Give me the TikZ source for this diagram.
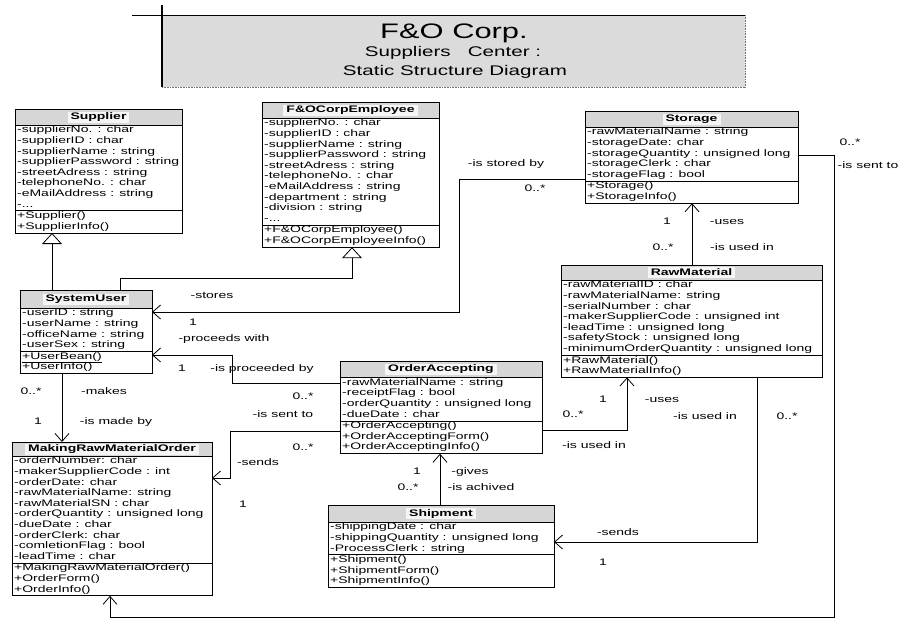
\documentclass[tikz,border=0pt]{standalone}
\usepackage{fontspec}
\setmainfont[FakeStretch=1.47]{Liberation Sans}
\usetikzlibrary{arrows.meta,calc}

\tikzset{
  boxline/.style={draw=black, line width=0.8pt},
  headfill/.style={fill=gray!32},
  rowtext/.style={inner sep=0pt, anchor=west, text height=7pt, text depth=2pt,
    font=\fontsize{9.5}{10.6}\selectfont},
  headtext/.style={inner xsep=3pt, inner ysep=1pt, fill=gray!8, text height=7pt, text depth=2pt,
    font=\fontsize{9.5}{10.6}\selectfont\bfseries},
  lbl/.style={inner sep=0pt, text height=7pt, text depth=2pt,
    font=\fontsize{9.5}{10.6}\selectfont},
  link/.style={draw=black, line width=0.75pt},
  assoc/.style={link, -{Straight Barb[length=8pt,width=14pt,line width=0.8pt]}},
  gen/.style={link, -{Triangle[open,length=11pt,width=20pt,fill=white,line width=0.8pt]}},
}

% three periods kept inside a macro so that \foreach does not read them as a range
\newcommand{\clsdots}{...}

% #1 name, #2 top-left x,y, #3 width, #4 header height, #5 no. of attributes,
% #6 no. of operations, #7 class name, #8 attributes, #9 operations
\newcommand{\umlclass}[9]{%
  \pgfmathsetmacro\clsh{#4+#5*10.6+#6*10.6+2}%
  \pgfmathsetmacro\clsep{#4+#5*10.6+1}%
  \node[draw, line width=0.8pt, inner sep=0pt, outer sep=0pt, minimum width=#3pt,
        minimum height=\clsh pt, anchor=north west] (#1) at (#2) {};
  \fill[headfill] (#1.north west) rectangle ($(#1.north east)+(0,#4)$);
  \node[headtext] (#1-name) at ($(#1.north)+(0,{#4/2})$) {#7};
  \draw[boxline] (#1.north west) rectangle (#1.south east);
  \draw[boxline] ($(#1.north west)+(0,#4)$) -- ($(#1.north east)+(0,#4)$);
  \draw[boxline] ($(#1.north west)+(0,\clsep)$) -- ($(#1.north east)+(0,\clsep)$);
  \foreach \a [count=\i] in {#8}
    \node[rowtext] (#1-a\i) at ($(#1.north west)+(2,{#4+5.3+(\i-1)*10.6})$) {\a};
  \foreach \m [count=\j] in {#9}
    \node[rowtext] (#1-m\j) at ($(#1.north west)+(2,{\clsep+5.3+(\j-1)*10.6})$) {\m};
}

\begin{document}
\begin{tikzpicture}[x=1pt,y=-1pt]
\useasboundingbox (0,0) rectangle (909,619);

% title block
\node[fill=gray!28, inner sep=0pt, outer sep=0pt, minimum width=583pt, minimum height=72pt,
      anchor=north west] (title) at (162,15) {};
\draw[black!55, line width=0.6pt, densely dotted] (title.north east) -- (title.south east)
      -- (title.south west);
\draw[line width=0.9pt] (132,15) -- (title.north east);
\draw[line width=1.1pt] (162,5) -- (title.south west);
\node[inner sep=0pt] (t1) at (454,33) {\fontsize{21}{21}\selectfont F\&O Corp.};
\node[inner sep=0pt] (t2) at (453,53) {\fontsize{14}{14}\selectfont Suppliers\ \ \ Center :};
\node[inner sep=0pt] (t3) at (455,72) {\fontsize{14}{14}\selectfont Static Structure Diagram};

% classes
\umlclass{sp}{15,109}{167}{16}{8}{2}{Supplier}
  {-supplierNo. : char,-supplierID : char,-supplierName : string,-supplierPassword : string,-streetAdress : string,-telephoneNo. : char,-eMailAddress : string,-\clsdots}
  {+Supplier(),+SupplierInfo()}

\umlclass{fe}{262,102}{177}{16}{10}{2}{F\&OCorpEmployee}
  {-supplierNo. : char,-supplierID : char,-supplierName : string,-supplierPassword : string,-streetAdress : string,-telephoneNo. : char,-eMailAddress : string,-department : string,-division : string,-\clsdots}
  {+F\&OCorpEmployee(),+F\&OCorpEmployeeInfo()}

\umlclass{st}{585,111}{213}{16}{5}{2}{Storage}
  {-rawMaterialName : string,-storageDate: char,-storageQuantity : unsigned long,-storageClerk : char,-storageFlag : bool}
  {+Storage(),+StorageInfo()}

\umlclass{su}{20,290}{132}{18}{4}{2}{SystemUser}
  {-userID : string,-userName : string,-officeName : string,-userSex : string}
  {\underline{+UserBean()},\underline{+UserInfo()}}

\umlclass{rm}{561,265}{261}{15}{7}{2}{RawMaterial}
  {-rawMaterialID : char,-rawMaterialName: string,-serialNumber : char,-makerSupplierCode : unsigned int,-leadTime : unsigned long,-safetyStock : unsigned long,-minimumOrderQuantity : unsigned long}
  {+RawMaterial(),+RawMaterialInfo()}

\umlclass{oa}{340,361}{202}{16.5}{4}{3}{OrderAccepting}
  {-rawMaterialName : string,-receiptFlag : bool,-orderQuantity : unsigned long,-dueDate : char}
  {+OrderAccepting(),+OrderAcceptingForm(),+OrderAcceptingInfo()}

\umlclass{mo}{12,442}{200}{14}{10}{3}{MakingRawMaterialOrder}
  {-orderNumber: char,-makerSupplierCode : int,-orderDate: char,-rawMaterialName: string,-rawMaterialSN : char,-orderQuantity : unsigned long,-dueDate : char,-orderClerk: char,-comletionFlag : bool,-leadTime : char}
  {+MakingRawMaterialOrder(),+OrderForm(),+OrderInfo()}

\umlclass{sh}{328,505}{226}{17}{3}{3}{Shipment}
  {-shippingDate : char,-shippingQuantity : unsigned long,-ProcessClerk : string}
  {+Shipment(),+ShipmentForm(),+ShipmentInfo()}

% generalizations
\draw[gen] (su.north -| 52,0) -- (sp.south -| 52,0);
\draw[gen] (su.north -| 120,0) |- (352,278) -- (fe.south -| 352,0);

% associations
\draw[assoc] (st.west |- 0,179) -| (459,312) -- (su.east |- 0,312);
\draw[assoc] (oa.west |- 0,383) -| (232,355) -- (su.east |- 0,355);
\draw[assoc] (su.south -| 62,0) -- (mo.north -| 62,0);
\draw[assoc] (oa.west |- 0,431) -| (230,478) -- (mo.east |- 0,478);
\draw[assoc] (oa.east |- 0,430) -| (rm.south -| 627,0);
\draw[assoc] (rm.north -| 692,0) -- (st.south -| 692,0);
\draw[assoc] (st.east |- 0,155) -| (834,617) -| (mo.south -| 110,0);
\draw[assoc] (rm.south -| 757,0) |- (sh.east |- 0,542);
\draw[assoc] (sh.north -| 440,0) -- (oa.south -| 440,0);

% role names and multiplicities
\node[lbl] (l1)  at (506,164) {-is stored by};
\node[lbl] (l2)  at (535,189) {0..*};
\node[lbl] (l3)  at (850,143) {0..*};
\node[lbl] (l4)  at (868,166) {-is sent to};
\node[lbl] (l5)  at (212,296) {-stores};
\node[lbl] (l6)  at (193,323) {1};
\node[lbl] (l7)  at (224,339) {-proceeds with};
\node[lbl] (l8)  at (182,369) {1};
\node[lbl] (l9)  at (262,369) {-is proceeded by};
\node[lbl] (l10) at (303,397) {0..*};
\node[lbl] (l11) at (283,415) {-is sent to};
\node[lbl] (l12) at (31,392)  {0..*};
\node[lbl] (l13) at (104,392) {-makes};
\node[lbl] (l14) at (38,422)  {1};
\node[lbl] (l15) at (116,422) {-is made by};
\node[lbl] (l16) at (303,448) {0..*};
\node[lbl] (l17) at (258,463) {-sends};
\node[lbl] (l18) at (243,505) {1};
\node[lbl] (l19) at (667,222) {1};
\node[lbl] (l20) at (727,222) {-uses};
\node[lbl] (l21) at (663,248) {0..*};
\node[lbl] (l22) at (742,248) {-is used in};
\node[lbl] (l23) at (603,400) {1};
\node[lbl] (l24) at (662,400) {-uses};
\node[lbl] (l25) at (573,415) {0..*};
\node[lbl] (l26) at (705,417) {-is used in};
\node[lbl] (l27) at (787,417) {0..*};
\node[lbl] (l28) at (594,446) {-is used in};
\node[lbl] (l29) at (417,472) {1};
\node[lbl] (l30) at (470,472) {-gives};
\node[lbl] (l31) at (408,488) {0..*};
\node[lbl] (l32) at (481,488) {-is achived};
\node[lbl] (l33) at (618,533) {-sends};
\node[lbl] (l34) at (603,563) {1};
\end{tikzpicture}
\end{document}
